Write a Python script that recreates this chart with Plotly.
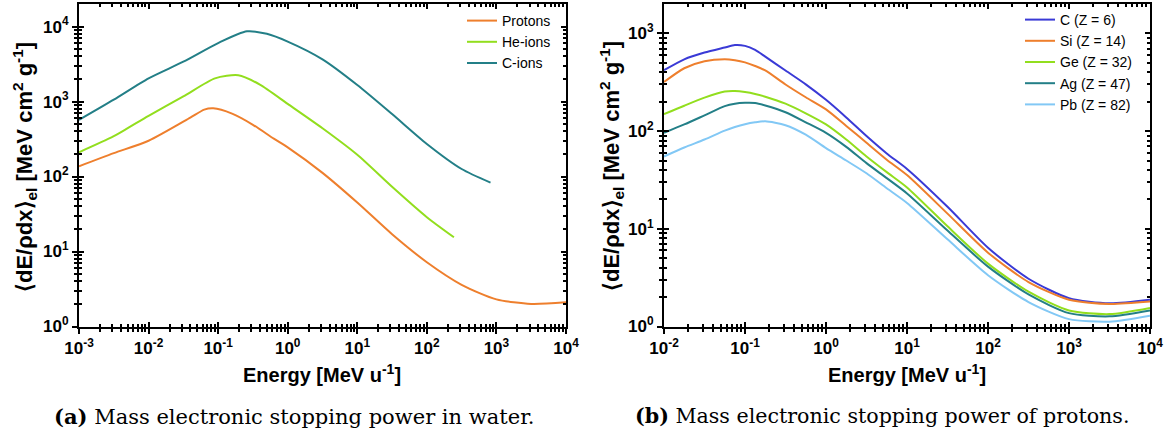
import math
import plotly.graph_objects as go

# ---------------- data: panel (a) water ----------------
E_protons = [1e-3, 10**-2.5, 1e-2, 10**-1.4, 10**-1.2, 0.085, 10**-0.8, 10**-0.5, 10**-0.2, 1.0,
             10**0.5, 10, 10**1.5, 100, 10**2.5, 1000, 10**3.5, 1e4]
S_protons = [137, 205, 300, 610, 780, 813, 690, 490, 320, 245, 112, 45, 17, 7.2, 3.6, 2.3, 2.0, 2.1]

E_he = [1e-3, 10**-2.5, 1e-2, 10**-1.5, 0.09, 0.195, 10**-0.4, 1.0, 10**0.5, 10, 10**1.5, 100, 245]
S_he = [211, 345, 645, 1170, 2040, 2240, 1680, 930, 440, 195, 73, 28.7, 15.5]

E_c = [1e-3, 10**-2.5, 1e-2, 10**-1.5, 0.1, 0.26, 10**-0.3, 1.0, 10**0.5, 10, 10**1.5, 100, 10**2.5, 822]
S_c = [570, 1060, 2040, 3400, 6030, 8650, 8000, 6300, 3650, 1660, 680, 272, 126, 83]

# ---------------- data: panel (b) protons in materials ----------------
E_b = [10**-2, 10**-1.75, 10**-1.5, 10**-1.25, 10**-1.125, 10**-1, 10**-0.875, 10**-0.75,
       10**-0.5, 10**-0.25, 1, 10**0.25, 10**0.5, 10**0.75, 10, 10**1.5, 100, 10**2.5,
       1000, 10**3.5, 1e4]
S_C = [420, 543, 637, 717, 760, 745, 678, 579, 417, 301, 209, 138, 89, 59, 41, 16.8, 6.4,
       3.08, 1.95, 1.73, 1.88]
S_Si = [318, 440, 519, 543, 531, 505, 464, 418, 300, 222, 167, 113, 76, 51, 35.5, 14.3, 5.7,
        2.85, 1.88, 1.70, 1.80]
S_Ge = [149, 182, 220, 254, 257, 251, 240, 225, 191, 152, 117, 82, 55, 38, 26.5, 10.6, 4.4,
        2.27, 1.46, 1.34, 1.55]
S_Ag = [96, 117, 145, 180, 191, 195, 194, 183, 156, 123, 96, 69, 47, 33, 23, 9.6, 4.1,
        2.13, 1.37, 1.27, 1.46]
S_Pb = [55, 68, 82, 101, 110, 117.5, 123, 126, 115, 92, 67, 50, 37, 26, 18.4, 7.8, 3.35,
        1.78, 1.19, 1.12, 1.29]

ticks_a_x = [-3, -2, -1, 0, 1, 2, 3, 4]
ticks_a_y = [0, 1, 2, 3, 4]
ticks_b_x = [-2, -1, 0, 1, 2, 3, 4]
ticks_b_y = [0, 1, 2, 3]

ORANGE = '#EE7F2D'
GREEN = '#92DE1E'
TEAL = '#237F87'
BLUE = '#3A3AD6'
LIGHTBLUE = '#82C8F5'

W, H = 1172, 434
SANS = 'Liberation Sans'

fig = go.Figure()

def add(x, y, name, color, xa, ya, legend):
    fig.add_trace(go.Scatter(x=x, y=y, name=name, mode='lines',
                             line=dict(color=color, width=2, shape='spline', smoothing=0.7),
                             xaxis=xa, yaxis=ya, legend=legend))

add(E_protons, S_protons, 'Protons', ORANGE, 'x', 'y', 'legend')
add(E_he, S_he, 'He-ions', GREEN, 'x', 'y', 'legend')
add(E_c, S_c, 'C-ions', TEAL, 'x', 'y', 'legend')

add(E_b, S_C, 'C (Z = 6)', BLUE, 'x2', 'y2', 'legend2')
add(E_b, S_Si, 'Si (Z = 14)', ORANGE, 'x2', 'y2', 'legend2')
add(E_b, S_Ge, 'Ge (Z = 32)', GREEN, 'x2', 'y2', 'legend2')
add(E_b, S_Ag, 'Ag (Z = 47)', TEAL, 'x2', 'y2', 'legend2')
add(E_b, S_Pb, 'Pb (Z = 82)', LIGHTBLUE, 'x2', 'y2', 'legend2')

# empty traces to create overlay axes (inside ticks -> crossing ticks)
for xa, ya in [('x3', 'y3'), ('x4', 'y4')]:
    fig.add_trace(go.Scatter(x=[], y=[], xaxis=xa, yaxis=ya, showlegend=False, hoverinfo='skip'))


def minor_vals(decades):
    vals = []
    for d in decades[:-1]:
        for k in range(2, 10):
            vals.append(k * 10 ** d)
    return vals


def labels(exps):
    return ['<b>10<sup>%d</sup></b>' % e for e in exps]


def axis(exps, rng, domain=None, ticks='outside', showlabels=True, mirror=False, **kw):
    d = dict(type='log', range=rng, showline=True, linecolor='black', linewidth=2,
             ticks=ticks, ticklen=5, tickwidth=2, tickcolor='black',
             tickmode='array', tickvals=[10 ** e for e in exps],
             ticktext=labels(exps), showticklabels=showlabels,
             tickfont=dict(family=SANS, size=17, color='black'),
             minor=dict(ticks=ticks, ticklen=3, tickwidth=1.5, tickcolor='black',
                        tickmode='array', tickvals=minor_vals(exps), showgrid=False),
             showgrid=False, zeroline=False, mirror=mirror, automargin=False)
    if domain is not None:
        d['domain'] = domain
    d.update(kw)
    return d

ya_dom = [1 - 326.5 / H, 1 - 4 / H]
xa_dom = [79 / W, 566 / W]
xb_dom = [664 / W, 1150 / W]

ya_rng = [0, math.log10(2e4)]
yb_rng = [0, math.log10(2e3)]

legend_style = dict(xanchor='left', yanchor='top', bgcolor='rgba(0,0,0,0)',
                    font=dict(family=SANS, size=14, color='black'),
                    itemwidth=30, tracegroupgap=0)

fig.update_layout(
    width=W, height=H, margin=dict(l=0, r=0, t=0, b=0),
    plot_bgcolor='white', paper_bgcolor='white',
    xaxis=axis(ticks_a_x, [-3, 4], xa_dom, anchor='y'),
    yaxis=axis(ticks_a_y, ya_rng, ya_dom, anchor='x'),
    xaxis2=axis(ticks_b_x, [-2, 4], xb_dom, anchor='y2'),
    yaxis2=axis(ticks_b_y, yb_rng, ya_dom, anchor='x2'),
    xaxis3=axis(ticks_a_x, [-3, 4], None, ticks='inside', showlabels=False, mirror='ticks',
                overlaying='x', anchor='y3'),
    yaxis3=axis(ticks_a_y, ya_rng, None, ticks='inside', showlabels=False, mirror='ticks',
                overlaying='y', anchor='x3'),
    xaxis4=axis(ticks_b_x, [-2, 4], None, ticks='inside', showlabels=False, mirror='ticks',
                overlaying='x2', anchor='y4'),
    yaxis4=axis(ticks_b_y, yb_rng, None, ticks='inside', showlabels=False, mirror='ticks',
                overlaying='y2', anchor='x4'),
    legend=dict(x=462 / W, y=1 - 5 / H, **legend_style),
    legend2=dict(x=1020 / W, y=1 - 4 / H, **legend_style),
)

ytitle = '<b>⟨dE/ρdx⟩<sub>el</sub> [MeV cm<sup>2</sup> g<sup>-1</sup>]</b>'
xtitle = '<b>Energy [MeV u<sup>-1</sup>]</b>'

def ann(text, px, py, size, family=SANS, angle=0):
    fig.add_annotation(text=text, x=px / W, y=1 - py / H, xref='paper', yref='paper',
                       xanchor='center', yanchor='middle', showarrow=False, textangle=angle,
                       font=dict(family=family, size=size, color='black'))

ann(ytitle, 25, 167, 22, angle=-90)
ann(ytitle, 611, 166, 22, angle=-90)
ann(xtitle, 322, 373, 20)
ann(xtitle, 907, 373, 20)

SERIF = 'DejaVu Serif'
ann('<b>(a)</b> Mass electronic stopping power in water.', 294, 416, 21, family=SERIF)
ann('<b>(b)</b> Mass electronic stopping power of protons.', 882, 416, 20.6, family=SERIF)

fig.write_html('out.html')
